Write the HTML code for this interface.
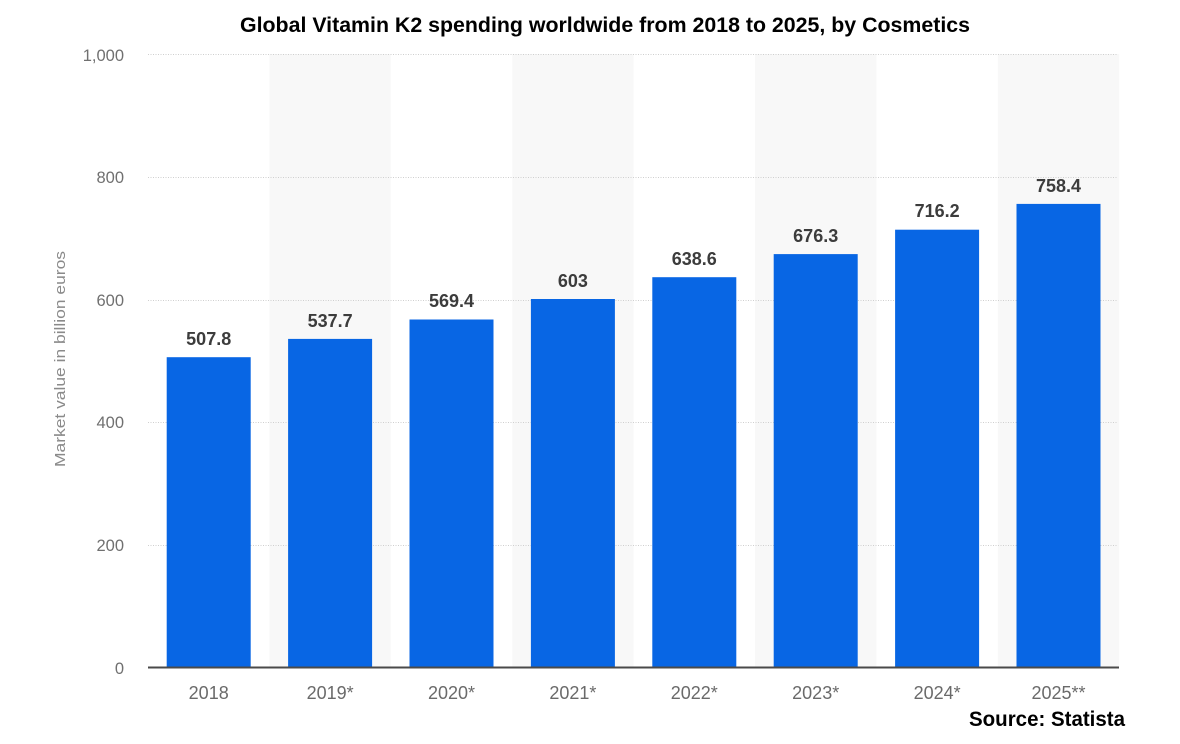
<!DOCTYPE html>
<html>
<head>
<meta charset="utf-8">
<style>
html,body{margin:0;padding:0;background:#fff;}
svg{display:block;}
</style>
</head>
<body>
<svg width="1180" height="744" viewBox="0 0 1180 744" xmlns="http://www.w3.org/2000/svg" font-family="'Liberation Sans', sans-serif">
  <rect x="0" y="0" width="1180" height="744" fill="#ffffff"/>
  <!-- alternating bands -->
  <rect x="269.4" y="54" width="121.4" height="613" fill="#f8f8f8"/>
  <rect x="512.2" y="54" width="121.4" height="613" fill="#f8f8f8"/>
  <rect x="755" y="54" width="121.4" height="613" fill="#f8f8f8"/>
  <rect x="997.8" y="54" width="121.4" height="613" fill="#f8f8f8"/>

  <!-- gridlines -->
  <g stroke="#cfcfcf" stroke-width="1" stroke-dasharray="1,1.5">
    <line x1="148" y1="54.5" x2="1118" y2="54.5"/>
    <line x1="148" y1="177.5" x2="1118" y2="177.5"/>
    <line x1="148" y1="300.5" x2="1118" y2="300.5"/>
    <line x1="148" y1="422.5" x2="1118" y2="422.5"/>
    <line x1="148" y1="545.5" x2="1118" y2="545.5"/>
  </g>

  <!-- y tick labels -->
  <g fill="#707070" font-size="16.5" text-anchor="end">
    <text x="124" y="61">1,000</text>
    <text x="124" y="183">800</text>
    <text x="124" y="306">600</text>
    <text x="124" y="428">400</text>
    <text x="124" y="551">200</text>
    <text x="124" y="674">0</text>
  </g>

  <!-- y axis title -->
  <text x="0" y="0" transform="translate(65,467) rotate(-90)" fill="#8a8a8a" font-size="15" textLength="216" lengthAdjust="spacingAndGlyphs">Market value in billion euros</text>

  <!-- bars -->
  <g fill="#0866e4">
    <rect x="166.7" y="357.2" width="84" height="310.8"/>
    <rect x="288.1" y="338.9" width="84" height="329.1"/>
    <rect x="409.5" y="319.5" width="84" height="348.5"/>
    <rect x="530.9" y="299.0" width="84" height="369.0"/>
    <rect x="652.3" y="277.2" width="84" height="390.8"/>
    <rect x="773.7" y="254.1" width="84" height="413.9"/>
    <rect x="895.1" y="229.7" width="84" height="438.3"/>
    <rect x="1016.5" y="203.9" width="84" height="464.1"/>
  </g>

  <!-- value labels -->
  <g fill="#3c3c3c" font-size="18" font-weight="bold" text-anchor="middle">
    <text x="208.7" y="345">507.8</text>
    <text x="330.1" y="327">537.7</text>
    <text x="451.5" y="307">569.4</text>
    <text x="572.9" y="287">603</text>
    <text x="694.3" y="265">638.6</text>
    <text x="815.7" y="242">676.3</text>
    <text x="937.1" y="217">716.2</text>
    <text x="1058.5" y="192">758.4</text>
  </g>

  <!-- axis line -->
  <rect x="148" y="666.5" width="971" height="2" fill="#4a4a4a"/>

  <!-- x labels -->
  <g fill="#6a6a6a" font-size="18" text-anchor="middle">
    <text x="208.7" y="699">2018</text>
    <text x="330.1" y="699">2019*</text>
    <text x="451.5" y="699">2020*</text>
    <text x="572.9" y="699">2021*</text>
    <text x="694.3" y="699">2022*</text>
    <text x="815.7" y="699">2023*</text>
    <text x="937.1" y="699">2024*</text>
    <text x="1058.5" y="699">2025**</text>
  </g>

  <!-- title -->
  <text x="240" y="32" fill="#000" font-size="21" font-weight="bold" textLength="730" lengthAdjust="spacingAndGlyphs">Global Vitamin K2 spending worldwide from 2018 to 2025, by Cosmetics</text>

  <!-- source -->
  <text x="969" y="726" fill="#000" font-size="21" font-weight="bold" textLength="156" lengthAdjust="spacingAndGlyphs">Source: Statista</text>
</svg>
</body>
</html>
